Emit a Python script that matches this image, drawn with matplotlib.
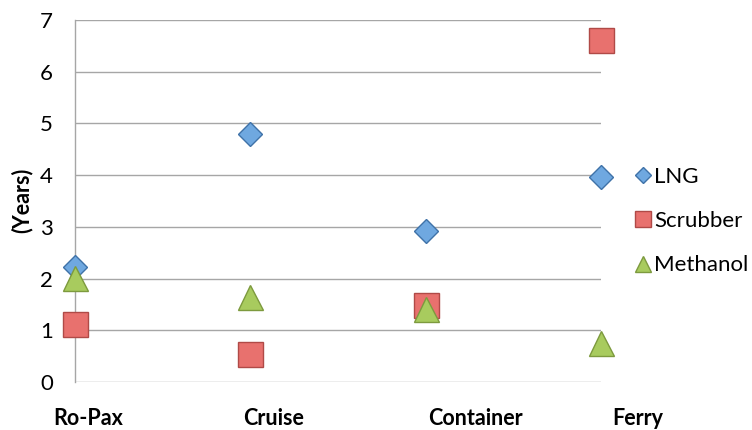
import matplotlib
matplotlib.use("Agg")
import matplotlib.pyplot as plt

plt.rcParams['font.family'] = ['Lato', 'DejaVu Sans']

# vessel types (x categories)
vessels = ["Ro-Pax", "Cruise", "Container", "Ferry"]
positions = [1, 2, 3, 4]

# payback time in years
lng = [2.23, 4.79, 2.93, 3.97]
scrubber = [1.13, 0.55, 1.50, 6.61]
methanol = [2.01, 1.64, 1.41, 0.76]

yticks = [0, 1, 2, 3, 4, 5, 6, 7]

fig = plt.figure(figsize=(7.52, 4.30), dpi=100)
ax = fig.add_axes([0.0997, 0.111, 0.6995, 0.843])

ax.plot(positions, lng, linestyle="none", marker="D", markersize=12.7,
        markerfacecolor="#6FA8E0", markeredgecolor="#3F72A8", markeredgewidth=1,
        clip_on=False, zorder=3, label="LNG")
ax.plot(positions, scrubber, linestyle="none", marker="s", markersize=18,
        markerfacecolor="#E8716E", markeredgecolor="#B04A47", markeredgewidth=1,
        clip_on=False, zorder=3, label="Scrubber")
ax.plot(positions, methanol, linestyle="none", marker="^", markersize=18,
        markerfacecolor="#A8CB5E", markeredgecolor="#7D9A3E", markeredgewidth=1,
        clip_on=False, zorder=4, label="Methanol")

ax.set_xlim(1, 4)
ax.set_ylim(0, 7)
ax.set_yticks(yticks)
ax.set_xticks([])
ax.tick_params(axis="y", length=0, pad=16, labelsize=16)
ax.grid(axis="y", color="#A6A6A6", linewidth=1)
ax.set_axisbelow(True)
for side in ["top", "right", "bottom"]:
    ax.spines[side].set_visible(False)
ax.spines["left"].set_color("#A6A6A6")
ax.spines["left"].set_linewidth(1)

# category labels sit under the plot like text boxes
label_x = [0.117, 0.364, 0.632, 0.848]
for name, lx in zip(vessels, label_x):
    fig.text(lx, 0.026, name, ha="center", va="center",
             fontsize=15.5, fontweight="bold")

fig.text(22 / 752, 0.533, "(Years)", rotation=90, ha="center", va="center",
         fontsize=15.5, fontweight="bold")

ax.legend(loc="center left", bbox_to_anchor=(0.843, 0.486),
          bbox_transform=fig.transFigure, frameon=False, fontsize=16,
          handlelength=0.8, handletextpad=0.12, borderpad=0, borderaxespad=0,
          labelspacing=1.1, markerscale=0.65)

fig.savefig("out.png", dpi=100)
